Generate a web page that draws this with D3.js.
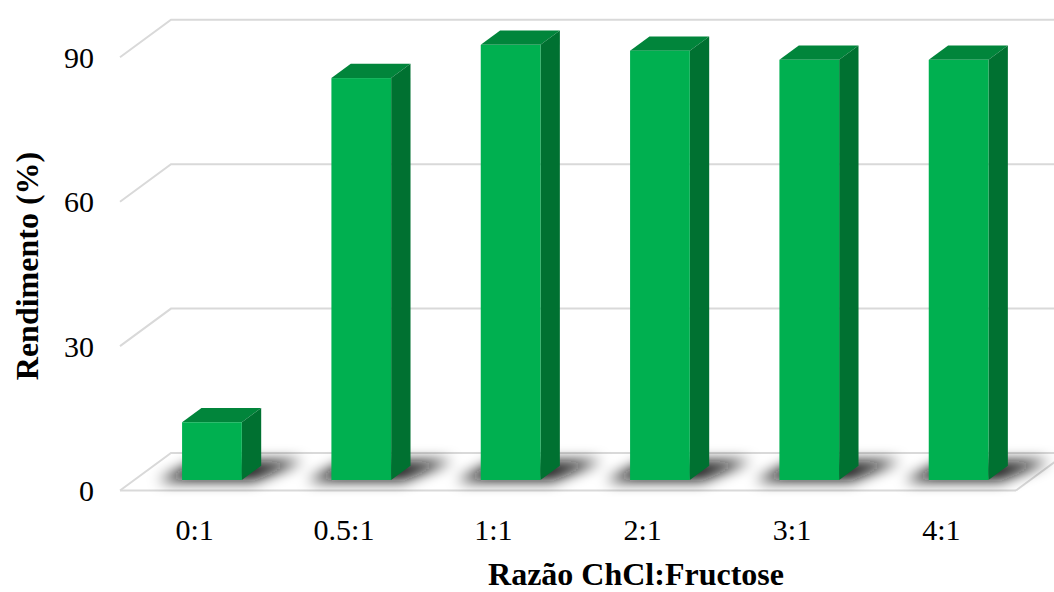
<!DOCTYPE html>
<html>
<head>
<meta charset="utf-8">
<script src="https://cdn.jsdelivr.net/npm/d3@7"></script>
<style>
  html, body { margin: 0; padding: 0; background: #fff; }
  svg { display: block; }
  text { font-family: "Liberation Serif", "Times New Roman", serif; fill: #000; }
</style>
</head>
<body>
<div id="chart"></div>
<script>
// Yield (%) for each ChCl:Fructose molar ratio
const categories = ["0:1", "0.5:1", "1:1", "2:1", "3:1", "4:1"];
const yields = [12, 83.5, 90.4, 89.2, 87.3, 87.3];
const yTicks = [0, 30, 60, 90];

const W = 1054, H = 592;

// Oblique 3D projection: front plane plus a depth vector towards the back wall
const DEPTH = { dx: 51, dy: -37.5 };
const barDepth = [0.28, 0.66];   // front / back of each column, as fractions of the floor depth
const barShift = 3;

const x = d3.scaleBand().domain(categories).range([120, 1016]).paddingInner(0).paddingOuter(0);
const y = d3.scaleLinear().domain([0, 90]).range([490.5, 57.3]);
const barW = x.bandwidth() * 0.4;

const colors = { front: "#00b050", top: "#01853b", side: "#007131", grid: "#d9d9d9", shadow: "#111" };

const svg = d3.select("#chart").append("svg").attr("width", W).attr("height", H);

const defs = svg.append("defs");
defs.append("filter").attr("id", "shadowBlur")
  .attr("x", "-50%").attr("y", "-100%").attr("width", "200%").attr("height", "300%")
  .append("feGaussianBlur").attr("stdDeviation", 7);

const P = (px, v, d) => [px + d * DEPTH.dx, y(v) + d * DEPTH.dy];
const poly = pts => pts.map(p => p.join(",")).join(" ");

// Walls and floor gridlines
const grid = svg.append("g").attr("stroke", colors.grid).attr("stroke-width", 2).attr("fill", "none");
const x0 = x.range()[0], x1 = x.range()[1];
yTicks.forEach(t => {
  const a = P(x0, t, 0), b = P(x0, t, 1), c = P(x1, t, 1);
  grid.append("polyline").attr("points", poly([a, b, c]));
});
// front edge of the floor
grid.append("line")
  .attr("x1", x0).attr("y1", y(0)).attr("x2", x1).attr("y2", y(0));
grid.append("line")
  .attr("x1", x1).attr("y1", y(0)).attr("x2", P(x1, 0, 1)[0]).attr("y2", P(x1, 0, 1)[1]);

// Soft shadows cast by the columns on the floor
const shadows = svg.append("g").attr("filter", "url(#shadowBlur)");
categories.forEach((c, i) => {
  const xl = x(c) + x.bandwidth() / 2 - barW / 2 + barShift;
  const xr = xl + barW;
  const fl = P(xl, 0, barDepth[0]), fr = P(xr, 0, barDepth[0]);
  const bl = P(xl, 0, barDepth[1]), br = P(xr, 0, barDepth[1]);
  shadows.append("polygon")
    .attr("points", poly([
      [fl[0] - 24, fl[1] + 1],
      [fr[0] + 12, fr[1] + 1],
      [br[0] + 42, br[1] - 5],
      [bl[0] - 4, bl[1] - 5]
    ]))
    .attr("fill", colors.shadow)
    .attr("opacity", 0.95);
});

// Columns
const bars = svg.append("g");
categories.forEach((c, i) => {
  const v = yields[i];
  const xl = x(c) + x.bandwidth() / 2 - barW / 2 + barShift;
  const xr = xl + barW;
  const [d0, d1] = barDepth;
  const g = bars.append("g");
  // top face
  g.append("polygon")
    .attr("points", poly([P(xl, v, d0), P(xr, v, d0), P(xr, v, d1), P(xl, v, d1)]))
    .attr("fill", colors.top);
  // right side face
  g.append("polygon")
    .attr("points", poly([P(xr, v, d0), P(xr, v, d1), P(xr, 0, d1), P(xr, 0, d0)]))
    .attr("fill", colors.side);
  // front face
  const ft = P(xl, v, d0), fb = P(xr, 0, d0);
  g.append("rect")
    .attr("x", ft[0]).attr("y", ft[1])
    .attr("width", fb[0] - ft[0]).attr("height", fb[1] - ft[1])
    .attr("fill", colors.front);
});

// Value axis labels
svg.append("g").selectAll("text").data(yTicks).join("text")
  .attr("x", 94).attr("y", d => y(d))
  .attr("dy", "0.35em")
  .attr("text-anchor", "end")
  .attr("font-size", 30)
  .text(d => d);

// Category labels
svg.append("g").selectAll("text").data(categories).join("text")
  .attr("x", d => x(d) + x.bandwidth() / 2)
  .attr("y", 540)
  .attr("text-anchor", "middle")
  .attr("font-size", 30)
  .text(d => d);

// Axis titles
svg.append("text")
  .attr("x", 636).attr("y", 585)
  .attr("text-anchor", "middle")
  .attr("font-size", 32).attr("font-weight", "bold")
  .text("Razão ChCl:Fructose");

svg.append("text")
  .attr("transform", "translate(38,266) rotate(-90)")
  .attr("text-anchor", "middle")
  .attr("font-size", 32).attr("font-weight", "bold")
  .text("Rendimento (%)");
</script>
</body>
</html>
